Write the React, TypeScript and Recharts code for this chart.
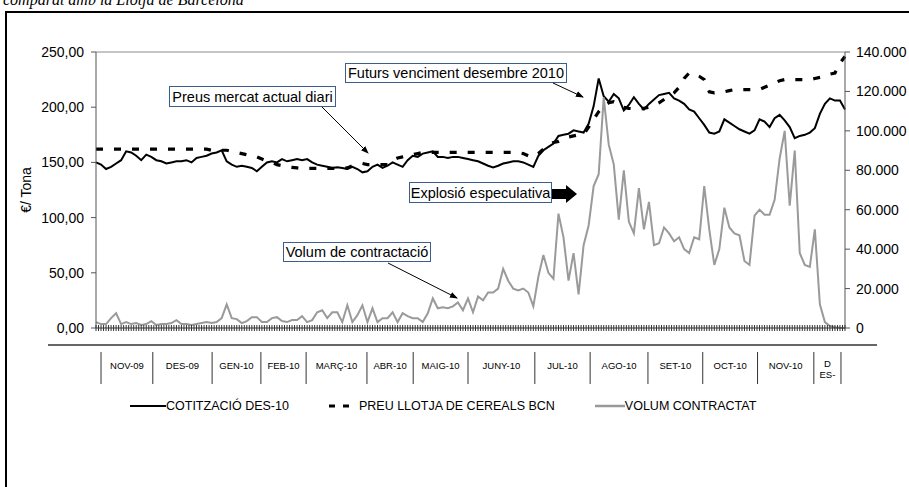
import { ComposedChart, Line, XAxis, YAxis, ReferenceLine, Legend } from "recharts";

const FONT = '"Liberation Sans", Arial, Helvetica, sans-serif';

// dies de cotització (índex), nov-09 .. des-10
const cotitzacio = [
  150, 148, 144, 146, 149, 152, 160, 159, 156, 152,
  157, 155, 152, 151, 149, 150, 151, 151, 152, 150,
  154, 155, 156, 158, 159, 161, 151, 148, 146, 147,
  146, 145, 142, 146, 150, 151, 150, 153, 151, 152,
  153, 152, 153, 150, 148, 147, 146, 145, 145.5, 145,
  144, 146, 144, 141, 142, 146, 148, 145, 147, 150,
  148, 146, 152, 156, 155, 158, 159, 160, 155, 155,
  154, 155, 155, 154, 153, 152, 151, 149, 147, 145.5,
  147, 149, 150, 151, 151, 150, 148, 146, 156, 161,
  164, 167, 174, 175, 176, 179, 178, 177, 185, 201,
  226, 210, 205, 212, 208, 197, 202, 209, 203, 198,
  203, 207, 211, 212, 213, 208, 206, 203, 198, 196,
  190, 184, 177, 176, 178, 189, 186, 183, 180, 178,
  176, 179, 189, 187, 182, 190, 193, 188, 182, 172,
  174, 175, 177, 181, 194, 203, 208, 206, 206, 198,
];

const llotja = [
  162, 162, 162, 162, 162, 162, 162, 162, 162, 162,
  162, 162, 162, 162, 162, 162, 162, 162, 162, 162,
  162, 162, 162, 161, 161, 161, 161, 160, 159, 158,
  157, 156, 155, 153, 151, 150, 148, 147, 146, 145.5,
  145, 144.5, 144.5, 144.5, 144.5, 144.5, 144.5, 144.5, 144.5, 144.5,
  145, 147, 148.5, 149, 148, 148, 148, 148, 148, 152,
  154, 155, 156, 157, 158, 159, 159, 159, 159, 159,
  159, 159, 159, 159, 159, 159, 159, 159, 159, 159,
  159, 159, 159, 159, 159, 158, 156, 155, 158, 162,
  166, 168, 169, 171, 173, 174, 175, 175.5, 182, 189,
  196, 201, 204, 205, 203, 200, 199, 198.5, 198, 199,
  200, 202, 204, 207, 210, 213, 218, 226, 231, 230,
  228, 225, 214, 213, 213.5, 214, 215, 216, 216, 216,
  216, 216, 216, 218, 220, 222, 224, 225, 225, 225,
  225, 225, 225, 226, 227, 228, 230, 231, 240, 246,
];

// volum contractat, en milers
const volumMilers = [
  3, 2, 2, 5, 7.5, 2, 3, 2, 2.5, 1.5,
  2, 3.5, 1.5, 2, 2, 2.5, 4, 2, 2, 1.5,
  2, 2.5, 3, 2.5, 3, 5, 12, 5, 4.5, 2.5,
  3.5, 5.5, 5.5, 3, 3, 5, 5.5, 3.5, 3, 4,
  4, 6, 3, 4, 8, 9, 5, 8, 8, 3,
  11.5, 3, 6.5, 11.5, 3, 10, 3, 5, 5, 8,
  3, 7.5, 6, 5, 5, 3, 7.5, 15, 10, 10.5,
  10, 11, 13, 9, 15, 8, 16, 14, 18, 18,
  20, 30, 24, 20, 19, 20, 18, 11, 26, 37,
  28, 25, 58, 46, 24, 38, 17, 42, 52, 72,
  78, 117, 93, 83, 55, 80, 54, 48, 71, 50,
  64, 42, 43, 51, 48, 44, 46, 40, 38, 46,
  45, 72, 50, 32, 40, 61, 51, 48, 47, 34,
  32, 57, 60, 57.5, 57.5, 65, 86, 100, 62, 90,
  38, 32, 31, 50, 12, 3, 1, 0.4, 0.1, 0,
];

const seriesNames = ["COTITZACIÓ DES-10", "PREU LLOTJA DE CEREALS BCN", "VOLUM CONTRACTAT"];

const monthLabels = [
  "NOV-09", "DES-09", "GEN-10", "FEB-10", "MARÇ-10", "ABR-10", "MAIG-10",
  "JUNY-10", "JUL-10", "AGO-10", "SET-10", "OCT-10", "NOV-10", "D\nES-",
];
// límits dels mesos en índex de dia
const monthBounds = [1.0, 11.3, 23.1, 32.8, 41.8, 53.9, 63.1, 74.0, 87.3, 98.3, 109.8, 120.7, 131.6, 142.8, 148.2];

const priceTicks = [0, 50, 100, 150, 200, 250];
const volumeTicks = [0, 20000, 40000, 60000, 80000, 100000, 120000, 140000];

const N = cotitzacio.length;
const data = cotitzacio.map((v, i) => ({
  i,
  cot: v,
  llotja: llotja[i],
  vol: volumMilers[i] * 1000,
}));

const dayTicks = Array.from({ length: (N - 1) * 2 + 1 }, (_, k) => k / 2);

const PLOT_LEFT = 96;
const PLOT_RIGHT = 845;
const pxPerDay = (PLOT_RIGHT - PLOT_LEFT) / (N - 1);

const fmtPrice = (v: number) => v.toFixed(2).replace(".", ",");
const fmtVol = (v: number) => String(v).replace(/\B(?=(\d{3})+(?!\d))/g, ".");

function DayTick(props: any) {
  const { x, y } = props;
  return <line x1={x} x2={x} y1={y - 3} y2={y + 3} stroke="#333" strokeWidth={1} />;
}

function MonthTick(props: any) {
  const { x, y, index } = props;
  const cur = monthBounds[index];
  const next = monthBounds[index + 1];
  const label = monthLabels[index];
  const cx = next !== undefined ? x + ((next - cur) * pxPerDay) / 2 : x;
  const lines = label ? label.split("\n") : [];
  return (
    <g>
      {index === 0 && <line x1={48} x2={877} y1={y} y2={y} stroke="#333" strokeWidth={1.5} />}
      <line x1={x} x2={x} y1={y + 7} y2={y + 39} stroke="#333" strokeWidth={1} />
      {lines.length === 1 && (
        <text x={cx} y={y + 20} textAnchor="middle" dominantBaseline="central" fontSize={9.5} fontFamily={FONT} fill="#000">
          {lines[0]}
        </text>
      )}
      {lines.length > 1 && (
        <text x={cx} y={y + 18} textAnchor="middle" dominantBaseline="central" fontSize={9.5} fontFamily={FONT} fill="#000">
          {lines.map((l: string, k: number) => (
            <tspan key={k} x={cx} dy={k === 0 ? 0 : 11}>{l}</tspan>
          ))}
        </text>
      )}
    </g>
  );
}

function AxisTitle(props: any) {
  const vb = props.viewBox || { x: 10, y: 52, width: 86, height: 276 };
  const x = vb.x + 16;
  const y = vb.y + vb.height / 2;
  return (
    <text x={x} y={y} transform={`rotate(-90 ${x} ${y})`} textAnchor="middle" dominantBaseline="central" fontSize={14} fontFamily={FONT} fill="#000">
      €/ Tona
    </text>
  );
}

function LegendContent(props: any) {
  const payload = props.payload || [];
  return (
    <div style={{ display: "flex", alignItems: "center", height: 20, fontFamily: FONT, fontSize: 12.5, color: "#000", whiteSpace: "nowrap" }}>
      {payload.map((p: any, k: number) => (
        <div key={k} style={{ display: "flex", alignItems: "center", marginLeft: k === 0 ? 0 : 40 }}>
          {k === 0 && (
            <svg width={36} height={10}>
              <line x1={0} x2={36} y1={5} y2={5} stroke="#000" strokeWidth={2} />
            </svg>
          )}
          {k === 1 && (
            <svg width={30} height={10}>
              <line x1={0} x2={6} y1={5} y2={5} stroke="#000" strokeWidth={3} />
              <line x1={14} x2={20} y1={5} y2={5} stroke="#000" strokeWidth={3} />
            </svg>
          )}
          {k === 2 && (
            <svg width={30} height={10}>
              <line x1={0} x2={30} y1={5} y2={5} stroke="#999" strokeWidth={2.5} />
            </svg>
          )}
          <span>{p.value}</span>
        </div>
      ))}
    </div>
  );
}

const boxStyle: any = {
  position: "absolute",
  border: "1px solid #3b5e8c",
  background: "#fff",
  fontFamily: FONT,
  fontSize: 14.5,
  color: "#000",
  display: "flex",
  alignItems: "center",
  justifyContent: "center",
  boxSizing: "border-box",
  whiteSpace: "nowrap",
};

export default function App() {
  return (
    <div style={{ position: "absolute", left: 0, top: 0, width: 909, height: 487, overflow: "hidden", background: "#fff" }}>
      <div
        style={{
          position: "absolute",
          left: 3,
          top: -8,
          fontFamily: '"Liberation Serif", "Times New Roman", serif',
          fontStyle: "italic",
          fontSize: 16,
          lineHeight: "16px",
          whiteSpace: "nowrap",
        }}
      >
        comparat amb la Llotja de Barcelona
      </div>
      <div style={{ position: "absolute", left: 5, top: 11, width: 1000, height: 1000, border: "2px solid #000" }} />

      <div style={{ position: "absolute", left: 0, top: 0 }}>
        <ComposedChart width={909} height={430} data={data} margin={{ top: 52, right: 4, left: 10, bottom: 20 }}>
          <XAxis
            xAxisId="day"
            dataKey="i"
            type="number"
            domain={[0, N - 1]}
            ticks={dayTicks}
            interval={0}
            tick={<DayTick />}
            tickLine={false}
            tickSize={0}
            tickMargin={0}
            height={17}
            axisLine={{ stroke: "#333", strokeWidth: 1 }}
          />
          <XAxis
            xAxisId="m"
            dataKey="i"
            type="number"
            domain={[0, N - 1]}
            ticks={monthBounds}
            interval={0}
            tick={<MonthTick />}
            tickLine={false}
            tickSize={0}
            tickMargin={0}
            height={45}
            axisLine={false}
          />
          <YAxis
            yAxisId="left"
            domain={[0, 250]}
            ticks={priceTicks}
            tickFormatter={fmtPrice}
            width={86}
            tickSize={5}
            tickMargin={7}
            interval={0}
            axisLine={{ stroke: "#555" }}
            tickLine={{ stroke: "#555" }}
            tick={{ fontSize: 14, fill: "#000", fontFamily: FONT }}
            label={{ value: "€/ Tona", content: AxisTitle }}
          />
          <YAxis
            yAxisId="vol"
            orientation="right"
            domain={[0, 140000]}
            ticks={volumeTicks}
            tickFormatter={fmtVol}
            width={60}
            tickSize={5}
            tickMargin={6}
            interval={0}
            axisLine={{ stroke: "#555" }}
            tickLine={{ stroke: "#555" }}
            tick={{ fontSize: 14, fill: "#000", fontFamily: FONT, textAnchor: "start" }}
          />
          <ReferenceLine yAxisId="left" xAxisId="day" y={250} stroke="#8c8c8c" strokeWidth={1} />
          <Legend
            verticalAlign="bottom"
            align="left"
            content={<LegendContent />}
            wrapperStyle={{ left: 130, width: 760, top: 396, bottom: "auto" }}
          />
          <Line
            xAxisId="day"
            yAxisId="left"
            type="linear"
            dataKey="cot"
            name={seriesNames[0]}
            stroke="#000"
            strokeWidth={2}
            dot={false}
            activeDot={false}
            isAnimationActive={false}
          />
          <Line
            xAxisId="day"
            yAxisId="left"
            type="linear"
            dataKey="llotja"
            name={seriesNames[1]}
            stroke="#000"
            strokeWidth={3.2}
            strokeDasharray="7 11"
            dot={false}
            activeDot={false}
            isAnimationActive={false}
          />
          <Line
            xAxisId="day"
            yAxisId="vol"
            type="linear"
            dataKey="vol"
            name={seriesNames[2]}
            stroke="#9a9a9a"
            strokeWidth={2}
            dot={false}
            activeDot={false}
            isAnimationActive={false}
          />
        </ComposedChart>
      </div>

      <div style={{ ...boxStyle, left: 169, top: 86, width: 167, height: 21 }}>Preus mercat actual diari</div>
      <div style={{ ...boxStyle, left: 345, top: 63, width: 222, height: 20 }}>Futurs venciment desembre 2010</div>
      <div style={{ ...boxStyle, left: 409, top: 182, width: 143, height: 21 }}>Explosió especulativa</div>
      <div style={{ ...boxStyle, left: 283, top: 242, width: 148, height: 20 }}>Volum de contractació</div>

      <svg width={909} height={487} style={{ position: "absolute", left: 0, top: 0, pointerEvents: "none" }}>
        <defs>
          <marker id="ah" markerWidth={8} markerHeight={8} refX={7} refY={4} orient="auto" markerUnits="userSpaceOnUse">
            <path d="M0,1 L8,4 L0,7 z" fill="#000" />
          </marker>
        </defs>
        <line x1={322} y1={107} x2={368} y2={153} stroke="#000" strokeWidth={1} markerEnd="url(#ah)" />
        <line x1={553} y1={83} x2={583} y2={97} stroke="#000" strokeWidth={1} markerEnd="url(#ah)" />
        <line x1={388} y1={263} x2={457} y2={298} stroke="#000" strokeWidth={1} markerEnd="url(#ah)" />
        <polygon points="552,189 566,189 566,185 577,194 566,203 566,199 552,199" fill="#000" />
      </svg>
    </div>
  );
}
